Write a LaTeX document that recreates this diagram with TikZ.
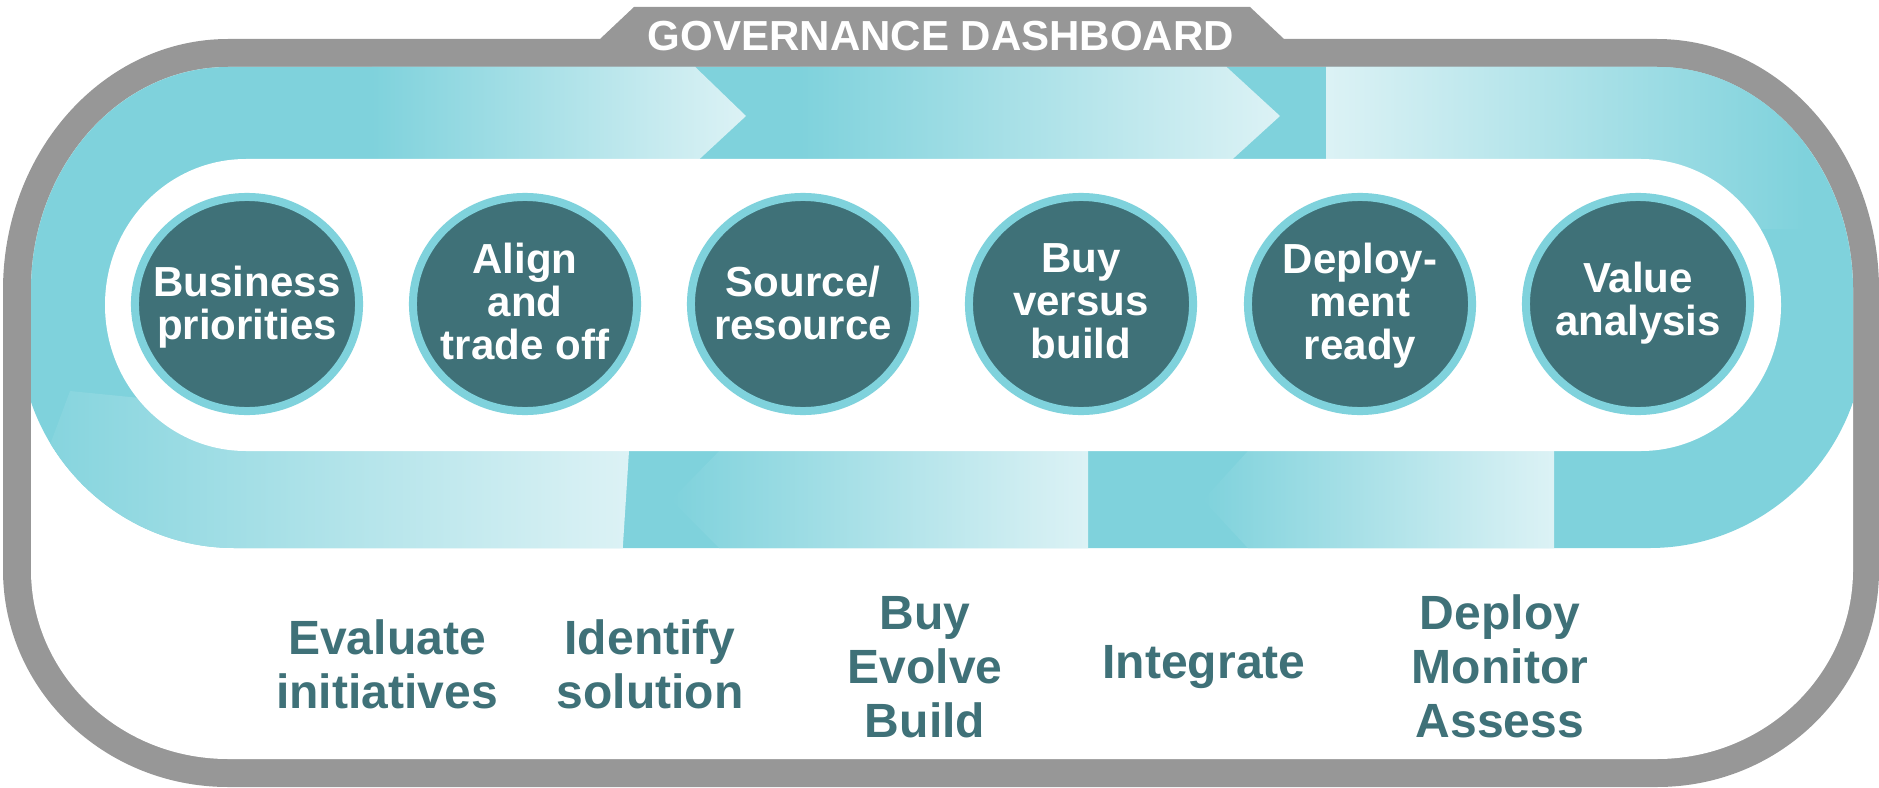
\documentclass[tikz,border=0pt]{standalone}
\usepackage{fontspec}
\setmainfont{Liberation Sans}
\usetikzlibrary{shapes.geometric}
\definecolor{frame}{HTML}{979797}
\definecolor{band}{HTML}{7FD2DC}
\definecolor{bandlight}{HTML}{DCF2F5}
\definecolor{deep}{HTML}{3F7178}
\begin{document}
\begin{tikzpicture}[x=0.01cm,y=-0.01cm,
  disc/.style={ellipse, draw=band, fill=deep, line width=0.08cm, minimum width=2.24cm, minimum height=2.14cm, inner sep=0pt},
  disctext/.style={text=white, align=center, inner sep=0pt, font=\bfseries\fontsize{11.95pt}{12.23pt}\selectfont},
  steplabel/.style={text=deep, align=center, inner sep=0pt, font=\bfseries\fontsize{13.66pt}{15.36pt}\selectfont},
  fwd/.style={left color=band, right color=bandlight},
  rev/.style={left color=bandlight, right color=band}]
\useasboundingbox (0,0) rectangle (1879,788);
\def\outerframe{(228,39) -- (600,39) -- (634,7) -- (1250,7) -- (1284,39) -- (1657,39) .. controls (1780,39) and (1879,151) .. (1879,290) -- (1879,570) .. controls (1879,690) and (1780,787) .. (1657,787) -- (228,787) .. controls (104,787) and (3,690) .. (3,570) -- (3,290) .. controls (3,151) and (104,39) .. (228,39) -- cycle}
\def\innerframe{(228,67) -- (1657,67) .. controls (1765,67) and (1853,167) .. (1853,290) -- (1853,570) .. controls (1853,674) and (1765,759) .. (1657,759) -- (228,759) .. controls (119,759) and (31,674) .. (31,570) -- (31,290) .. controls (31,167) and (119,67) .. (228,67) -- cycle}
\def\loopouter{(228,67) -- (1657,67) .. controls (1765,67) and (1853,167) .. (1853,290) -- (1853,402) .. controls (1823,489) and (1741,548) .. (1650,548) -- (234,548) .. controls (143,548) and (61,489) .. (31,402) -- (31,290) .. controls (31,167) and (119,67) .. (228,67) -- cycle}
\def\loopinner{(246,159) -- (1641,159) .. controls (1718,159) and (1781,224) .. (1781,305) .. controls (1781,386) and (1718,451) .. (1641,451) -- (246,451) .. controls (168,451) and (105,386) .. (105,305) .. controls (105,224) and (168,159) .. (246,159) -- cycle}
% frame
\fill[frame] \outerframe;
\fill[white] \innerframe;
% band
\fill[band] \loopouter;
\begin{scope}
  \clip \loopouter;
  \shade[fwd] (372,60) -- (688,60) -- (746,116) -- (691,167) -- (372,167) -- cycle;
  \shade[fwd] (800,60) -- (1219,60) -- (1280,116) -- (1224,167) -- (800,167) -- cycle;
  \shade[rev] (1326,50) rectangle (1805,228);
  \shade[fwd] (1203,500) -- (1258,440) -- (1554,440) -- (1554,560) -- (1259,560) -- cycle;
  \shade[fwd] (671,500) -- (730,440) -- (1088,440) -- (1088,560) -- (731,560) -- cycle;
  \shade[fwd] (70,391) -- (140,398) -- (629,398) -- (629,451) -- (622,560) -- (0,560) -- (0,480) -- (48,450) -- cycle;
\end{scope}
\fill[white] \loopinner;
% title
\node[text=white, inner sep=0pt, font=\bfseries\fontsize{11.95pt}{12pt}\selectfont] (title) at (941,35.8) {GOVERNANCE DASHBOARD};
% discs
\node[disc] (c1) at (247,304) {};
\node[disc] (c2) at (525,304) {};
\node[disc] (c3) at (803,304) {};
\node[disc] (c4) at (1081,304) {};
\node[disc] (c5) at (1360,304) {};
\node[disc] (c6) at (1638,304) {};
\node[disctext] (t1) at (247,307) {Business\\priorities};
\node[disctext] (t2) at (525,301) {Align\\and\\trade off};
\node[disctext] (t3) at (803,302.5) {Source/\\resource};
\node[disctext] (t4) at (1081,301) {Buy\\versus\\build};
\node[disctext] (t5) at (1360,305.5) {Deploy-\\ment\\ready};
\node[disctext] (t6) at (1638,303.5) {Value\\analysis};
% labels
\node[steplabel] (l1) at (387,664.8) {Evaluate\\initiatives};
\node[steplabel] (l2) at (650,664.5) {Identify\\solution};
\node[steplabel] (l3) at (925,666.8) {Buy\\Evolve\\Build};
\node[steplabel] (l4) at (1204,666.8) {Integrate};
\node[steplabel] (l5) at (1500,666.8) {Deploy\\Monitor\\Assess};
\end{tikzpicture}
\end{document}
